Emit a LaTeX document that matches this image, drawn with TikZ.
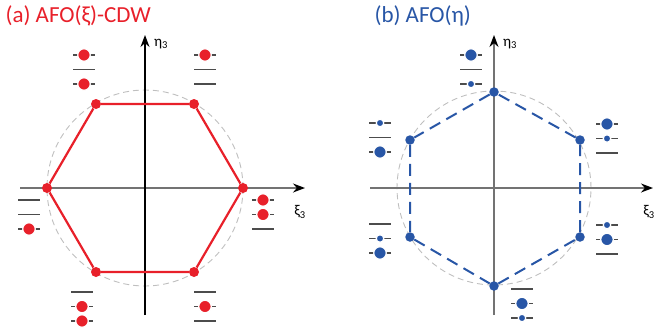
\documentclass[tikz,border=0pt]{standalone}
\usepackage{fontspec}
\setmainfont{Carlito}
\usetikzlibrary{arrows.meta}
\definecolor{afored}{RGB}{232,32,42}
\definecolor{afoblue}{RGB}{40,86,166}

\begin{document}
\begin{tikzpicture}[x=1pt,y=-1pt,
    axis/.style={line width=1.4pt,draw=black!55,-{Stealth[black,length=12pt,width=9pt]}},
    guide/.style={draw=black!25,dash pattern=on 6pt off 4pt,line width=0.9pt},
    lvl/.style={draw=black!70,line width=1.3pt},
    rdot/.style={shape=circle,fill=afored,draw=white,line width=1.2pt,minimum size=12.5pt,inner sep=0pt},
    bbig/.style={shape=circle,fill=afoblue,draw=white,line width=1.2pt,minimum size=12.5pt,inner sep=0pt},
    bsmall/.style={shape=circle,fill=afoblue,draw=white,line width=1.2pt,minimum size=7.5pt,inner sep=0pt},
    rvert/.style={shape=circle,fill=afored,minimum size=10pt,inner sep=0pt},
    bvert/.style={shape=circle,fill=afoblue,minimum size=9.5pt,inner sep=0pt},
    title/.style={anchor=west,font=\fontsize{23}{23}\selectfont},
    lab/.style={font=\fontsize{15}{15}\selectfont}]
\useasboundingbox (0,0) rectangle (654,335);

% (a) AFO(xi)-CDW
\node[title,text=afored] (ta) at (2,16) {(a) AFO(ξ)-CDW};
\coordinate (ca) at (145,188);
\draw[guide] (ca) circle[radius=98pt];
\coordinate (axl) at (20,188);
\coordinate (axr) at (305,188);
\coordinate (ayb) at (145,315);
\coordinate (ayt) at (145,35);
\draw[axis] (axl) -- (axr);
\draw[axis,draw=black] (ayb) -- (ayt);
\node[lab] (etaa) at (161,44) {η\textsubscript{3}};
\node[lab] (xia) at (300,212) {ξ\textsubscript{3}};

\node[rvert] (a1) at (243,188) {};
\node[rvert] (a2) at (194,104) {};
\node[rvert] (a3) at (96,104) {};
\node[rvert] (a4) at (47,188) {};
\node[rvert] (a5) at (96,272) {};
\node[rvert] (a6) at (194,272) {};
\draw[afored,line width=2.2pt] (a1) -- (a2) -- (a3) -- (a4) -- (a5) -- (a6) -- (a1);

\foreach \x/\y in {84/55,84/69.5,84/84, 205/55,205/69.5,205/84,
                   29/200,29/214.5,29/229, 263/200,263/214.5,263/229,
                   82/292,82/306.5,82/321, 205/292,205/306.5,205/321}
  \draw[lvl] (\x-11,\y) -- (\x+11,\y);
\node[rdot] (tl1) at (84,55) {};
\node[rdot] (tl3) at (84,84) {};
\node[rdot] (tr1) at (205,55) {};
\node[rdot] (l3) at (29,229) {};
\node[rdot] (r1) at (263,200) {};
\node[rdot] (r2) at (263,214.5) {};
\node[rdot] (bl2) at (82,306.5) {};
\node[rdot] (bl3) at (82,321) {};
\node[rdot] (br2) at (205,306.5) {};

% (b) AFO(eta)
\node[title,text=afoblue] (tb) at (371,16) {(b) AFO(η)};
\coordinate (cb) at (494,188);
\draw[guide] (cb) circle[radius=97pt];
\coordinate (bxl) at (370,188);
\coordinate (bxr) at (653,188);
\coordinate (byb) at (494,315);
\coordinate (byt) at (494,35);
\draw[axis] (bxl) -- (bxr);
\draw[axis] (byb) -- (byt);
\node[lab] (etab) at (510,44) {η\textsubscript{3}};
\node[lab] (xib) at (649,212) {ξ\textsubscript{3}};

\node[bvert] (b1) at (494,92) {};
\node[bvert] (b2) at (410,140) {};
\node[bvert] (b3) at (410,237) {};
\node[bvert] (b4) at (494,286) {};
\node[bvert] (b5) at (580,237) {};
\node[bvert] (b6) at (580,140) {};
\draw[afoblue,line width=2pt,dash pattern=on 12pt off 7pt] (b1) -- (b2) -- (b3) -- (b4) -- (b5) -- (b6) -- (b1);

\foreach \x/\y in {471/55,471/69.5,471/84, 380/123,380/137.5,380/152,
                   380/224,380/238.5,380/253, 607/124,607/138.5,607/153,
                   607/225,607/239.5,607/254, 522/289,522/303.5,522/318}
  \draw[lvl] (\x-11,\y) -- (\x+11,\y);
\node[bbig] (t1) at (471,55) {};
\node[bsmall] (t3) at (471,84) {};
\node[bsmall] (ul1) at (380,123) {};
\node[bbig] (ul3) at (380,152) {};
\node[bsmall] (ll2) at (380,238.5) {};
\node[bbig] (ll3) at (380,253) {};
\node[bbig] (ur1) at (607,124) {};
\node[bsmall] (ur2) at (607,138.5) {};
\node[bsmall] (lr1) at (607,225) {};
\node[bbig] (lr2) at (607,239.5) {};
\node[bbig] (bo2) at (522,303.5) {};
\node[bsmall] (bo3) at (522,318) {};

\end{tikzpicture}
\end{document}
